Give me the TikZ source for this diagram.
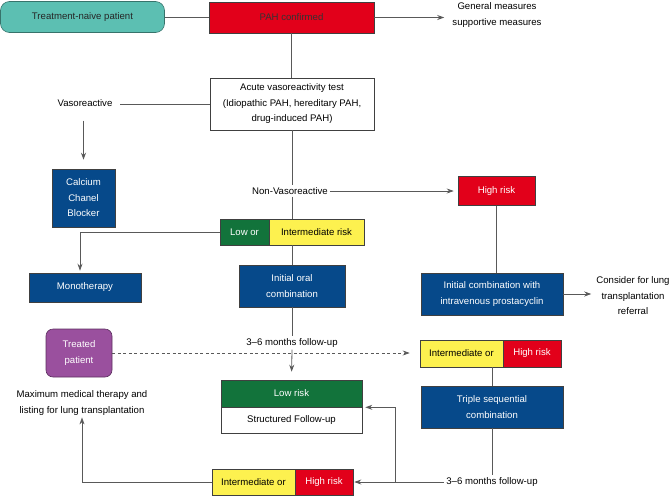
\documentclass[tikz,border=0pt]{standalone}
\usepackage{fontspec}
\setmainfont{Liberation Sans}
\usetikzlibrary{arrows.meta}
\definecolor{pahred}{HTML}{E2001A}
\definecolor{pahblue}{HTML}{06498A}
\definecolor{pahgreen}{HTML}{12733B}
\definecolor{pahyellow}{HTML}{FDF14F}
\definecolor{pahteal}{HTML}{5CBFB2}
\definecolor{pahpurple}{HTML}{9A509E}
\tikzset{
	box/.style={draw=black!75, line width=0.6pt, inner sep=0pt, align=center},
	bluebox/.style={box, fill=pahblue, text=white},
	redbox/.style={box, fill=pahred, text=white},
	greenbox/.style={box, fill=pahgreen, text=white},
	yellowbox/.style={box, fill=pahyellow, text=black},
	whitebox/.style={box, fill=white, text=black},
	lbl/.style={align=center, inner sep=2pt},
	conn/.style={draw=black!65, line width=0.8pt}
}
\begin{document}
\begin{tikzpicture}[x=1pt,y=-1pt,>={Stealth[length=7pt,width=5pt]},
	every node/.style={font=\fontsize{9.6}{15.5}\selectfont}]
	\useasboundingbox (0,0) rectangle (672,496);
	%Kaesten
	\node[box, fill=pahteal, draw=pahteal!60!black, rounded corners=9pt, text=black!85, minimum width=164pt, minimum height=31pt] (naive) at (82.5,17) {Treatment-naive patient};
	\node[redbox, text=black!80, minimum width=165pt, minimum height=31pt] (pah) at (291.5,17.5) {PAH confirmed};
	\node[lbl, inner sep=0pt] (general) at (497,15) {General measures\\supportive measures};
	\node[whitebox, minimum width=164pt, minimum height=52pt] (avt) at (292,104) {Acute vasoreactivity test\\(Idiopathic PAH, hereditary PAH,\\drug-induced PAH)};
	\node[lbl, inner sep=0pt] (vaso) at (85,103) {Vasoreactive};
	\node[bluebox, minimum width=63pt, minimum height=58pt] (ccb) at (83.5,198) {Calcium\\Chanel\\Blocker};
	\node[lbl] (nonvaso) at (290,191) {Non-Vasoreactive};
	\node[redbox, minimum width=77pt, minimum height=29pt] (hrisk) at (496.5,191) {High risk};
	\node[greenbox, minimum width=49pt, minimum height=26pt] (lowor) at (244.5,232) {Low or};
	\node[yellowbox, minimum width=95pt, minimum height=26pt] (lowint) at (316.5,232) {Intermediate risk};
	\node[bluebox, minimum width=112pt, minimum height=29pt] (mono) at (85,287.5) {Monotherapy};
	\node[bluebox, minimum width=106pt, minimum height=42pt] (initoral) at (292,286) {Initial oral\\combination};
	\node[bluebox, minimum width=142pt, minimum height=42pt] (ivcombo) at (492,294) {Initial combination with\\intravenous prostacyclin};
	\node[lbl, inner sep=0pt] (consider) at (633,296) {Consider for lung\\transplantation\\referral};
	\node[box, fill=pahpurple, draw=pahpurple!60!black, rounded corners=7pt, text=white, minimum width=66pt, minimum height=48pt] (treated) at (79,353) {Treated\\patient};
	\node[lbl] (fuone) at (292,343) {3–6 months follow-up};
	\node[greenbox, minimum width=141pt, minimum height=27pt] (lowrisk) at (291.5,393.5) {Low risk};
	\node[whitebox, minimum width=141pt, minimum height=26pt] (structured) at (291.5,420) {Structured Follow-up};
	\node[yellowbox, minimum width=83pt, minimum height=27pt] (rint) at (461.5,353.5) {Intermediate or};
	\node[redbox, minimum width=58pt, minimum height=27pt] (rhigh) at (532,353.5) {High risk};
	\node[bluebox, minimum width=142pt, minimum height=42pt] (triple) at (492,407) {Triple sequential\\combination};
	\node[lbl] (futwo) at (492,482) {3–6 months follow-up};
	\node[yellowbox, minimum width=83pt, minimum height=26pt] (bint) at (253.5,482) {Intermediate or};
	\node[redbox, minimum width=58pt, minimum height=26pt] (bhigh) at (324,482) {High risk};
	\node[lbl, inner sep=0pt] (maxmed) at (82,403) {Maximum medical therapy and\\listing for lung transplantation};
	\coordinate (split) at (395,482);
	%Verbindungen
	\draw[conn] (naive.east) -- (naive.east -| pah.west);
	\draw[conn,->,shorten >=8pt] (pah.east) -- (pah.east -| general.west);
	\draw[conn] (pah.south |- pah.south) -- (pah.south |- avt.north);
	\draw[conn,shorten >=7pt] (avt.west) -- (avt.west -| vaso.east);
	\draw[conn,->,shorten <=14pt,shorten >=9pt] (vaso.south -| ccb.north) -- (ccb.north);
	\draw[conn] (avt.south) -- (avt.south |- nonvaso.north);
	\draw[conn] (avt.south |- nonvaso.south) -- (avt.south |- lowint.north);
	\draw[conn,->,shorten >=4pt] (nonvaso.east) -- (hrisk.west);
	\draw[conn,->,shorten >=2pt] (lowor.west) -| ([xshift=-5pt]mono.north);
	\draw[conn] (initoral.north |- lowint.south) -- (initoral.north);
	\draw[conn] (hrisk.south) -- (hrisk.south |- ivcombo.north);
	\draw[conn,->,shorten >=5pt] (ivcombo.east) -- (ivcombo.east -| consider.west);
	\draw[conn] (initoral.south) -- (fuone.north);
	\draw[conn,->,shorten >=8pt] (fuone.south) -- (lowrisk.north);
	\draw[conn,dashed,dash pattern=on 3pt off 2.5pt,->,shorten >=10pt] (treated.east) -- (treated.east -| rint.west);
	\draw[conn] (triple.north |- rint.south) -- (triple.north);
	\draw[conn] (triple.south) -- (futwo.north);
	\draw[conn,->,shorten >=1pt] (futwo.west) -- (bhigh.east);
	\draw[conn,->,shorten >=3pt] (split) |- (lowrisk.south east);
	\draw[conn,->,shorten >=2pt] (bint.west) -| (maxmed.south);
\end{tikzpicture}
\end{document}
